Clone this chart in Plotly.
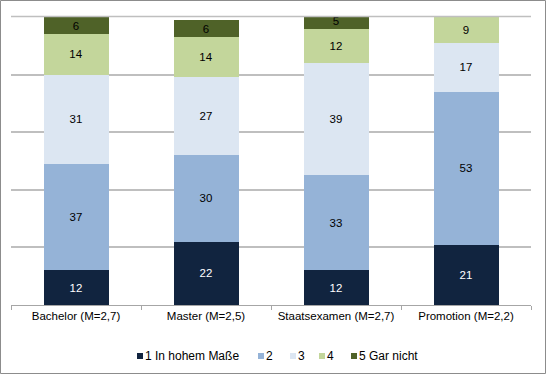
import plotly.graph_objects as go

categories = ["Bachelor (M=2,7)", "Master (M=2,5)", "Staatsexamen (M=2,7)", "Promotion (M=2,2)"]
series_names = ["1 In hohem Maße", "2", "3", "4", "5 Gar nicht"]
s1 = [12, 22, 12, 21]
s2 = [37, 30, 33, 53]
s3 = [31, 27, 39, 17]
s4 = [14, 14, 12, 9]
s5 = [6, 6, 5, None]
series_values = [s1, s2, s3, s4, s5]
colors = ["#11243F", "#95B3D7", "#DCE6F2", "#C3D69B", "#4F6228"]
text_colors = ["white", "black", "black", "black", "black"]
y_top = 100

W, H = 546, 374
ml, mr, mt, mb = 11, 15, 17, 69
pw, ph = W - ml - mr, H - mt - mb

fig = go.Figure()
for name, vals, col, tc in zip(series_names, series_values, colors, text_colors):
    fig.add_trace(go.Bar(
        x=categories, y=vals, name=name,
        marker=dict(color=col, line=dict(width=0)),
        text=[("" if v is None else str(v)) for v in vals],
        textposition="inside", insidetextanchor="middle", textangle=0,
        textfont=dict(color=tc, size=11.5, family="Liberation Sans, Arial"),
        constraintext="none",
        width=0.5,
        showlegend=False,
    ))

# manual compact legend (pixel positions of each entry's square left edge)
legend_x = [137, 258, 290, 319, 351]
legend_y = 356
shapes = []
annotations = []
for name, col, lx in zip(series_names, colors, legend_x):
    x0 = (lx - ml) / pw
    x1 = (lx + 6 - ml) / pw
    y0 = (H - mb - (legend_y + 3)) / ph
    y1 = (H - mb - (legend_y - 3)) / ph
    shapes.append(dict(type="rect", xref="paper", yref="paper", x0=x0, x1=x1, y0=y0, y1=y1,
                       fillcolor=col, line=dict(width=0)))
    annotations.append(dict(xref="paper", yref="paper", x=(lx + 6 - ml) / pw,
                            y=(H - mb - legend_y) / ph, xanchor="left", yanchor="middle",
                            text=name, showarrow=False,
                            font=dict(size=12, color="black"), xshift=0))

# top gridline along the upper edge of the plot area
shapes.append(dict(type="line", xref="paper", yref="paper", x0=0, x1=1,
                   y0=1 + 0.5 / ph, y1=1 + 0.5 / ph,
                   line=dict(color="#BFBFBF", width=1.5), layer="above"))

# outer border
shapes.append(dict(type="rect", xref="paper", yref="paper",
                   x0=(-ml + 0.5) / pw, x1=(pw + mr - 0.5) / pw,
                   y0=(-mb + 0.5) / ph, y1=(ph + mt - 0.5) / ph,
                   line=dict(color="#8C8C8C", width=1), layer="below"))

fig.update_layout(
    width=W, height=H,
    barmode="stack",
    margin=dict(l=ml, r=mr, t=mt, b=mb, autoexpand=False),
    paper_bgcolor="white", plot_bgcolor="white",
    font=dict(family="Liberation Sans, Arial", size=11, color="black"),
    uniformtext=dict(minsize=8, mode="show"),
    showlegend=False,
    xaxis=dict(type="category", showline=True, linecolor="#A6A6A6", linewidth=1,
               ticks="outside", tickson="boundaries", ticklen=4, tickcolor="#A6A6A6",
               tickfont=dict(size=11.5), showgrid=False, automargin=False),
    yaxis=dict(range=[0, y_top], tickvals=[20, 40, 60, 80], showticklabels=False, showgrid=True,
               gridcolor="#BFBFBF", gridwidth=1.5, zeroline=False, showline=False,
               automargin=False, layer="below traces"),
    shapes=shapes,
    annotations=annotations,
)

fig.write_html("out.html", config={"displayModeBar": False},
               post_script="document.body.style.margin='0';document.body.style.overflow='hidden';")
